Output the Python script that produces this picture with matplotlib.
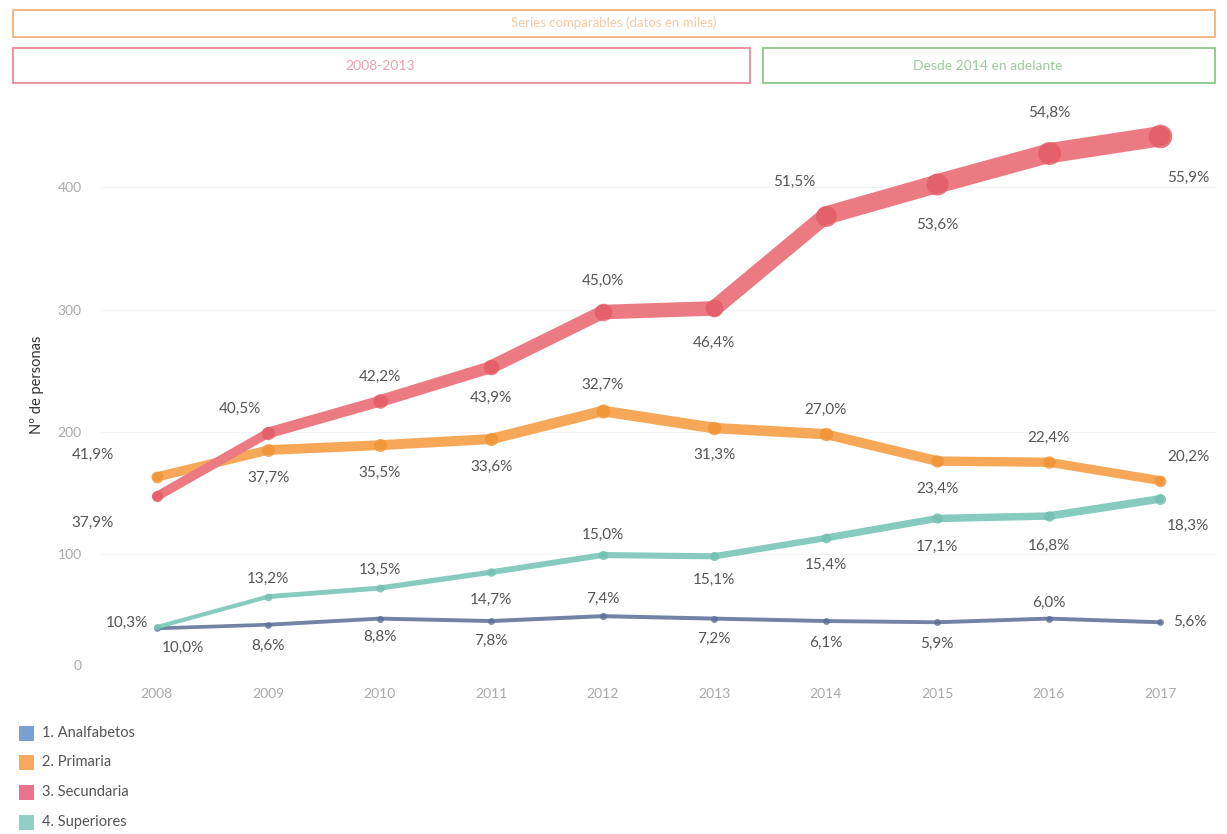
import matplotlib
matplotlib.use("Agg")
import matplotlib.pyplot as plt
from matplotlib.patches import Rectangle
from matplotlib.transforms import ScaledTranslation

plt.rcParams['font.family'] = ['Lato', 'DejaVu Sans']

# --- data (miles de personas) ---
years = [2008, 2009, 2010, 2011, 2012, 2013, 2014, 2015, 2016, 2017]
series_names = ["1. Analfabetos", "2. Primaria", "3. Secundaria", "4. Superiores"]

analfabetos = [39, 42, 47, 45, 49, 47, 45, 44, 47, 44]
primaria = [163, 185, 189, 194, 217, 203, 198, 176, 175, 160]
secundaria = [147, 199, 225, 253, 298, 301, 377, 403, 428, 442]
superiores = [40, 65, 72, 85, 99, 98, 113, 129, 131, 145]

pct_analfabetos = ["10,0%", "8,6%", "8,8%", "7,8%", "7,4%", "7,2%", "6,1%", "5,9%", "6,0%", "5,6%"]
pct_primaria = ["41,9%", "37,7%", "35,5%", "33,6%", "32,7%", "31,3%", "27,0%", "23,4%", "22,4%", "20,2%"]
pct_secundaria = ["37,9%", "40,5%", "42,2%", "43,9%", "45,0%", "46,4%", "51,5%", "53,6%", "54,8%", "55,9%"]
pct_superiores = ["10,3%", "13,2%", "13,5%", "14,7%", "15,0%", "15,1%", "15,4%", "17,1%", "16,8%", "18,3%"]

y_ticks = [0, 100, 200, 300, 400]

header_title = "Series comparables (datos en miles)"
header_left = "2008-2013"
header_right = "Desde 2014 en adelante"

# --- styling ---
line_colors = ["#7283a6", "#f6a858", "#ec7a82", "#86cbbd"]
mark_colors = ["#5d6f95", "#f29235", "#e35a64", "#72bfae"]
legend_colors = ["#79a0cf", "#f6a95e", "#e9738c", "#8ed0c3"]

# label offsets in pixels (dx, dy) relative to each point
off_analf = [(26, -20), (0, -21), (0, -18), (0, -20), (0, 17), (0, -20), (0, -22), (0, -22), (0, 16), (30, 0)]
off_prim = [(-64, 22), (0, -28), (0, -28), (0, -28), (0, 26), (0, -27), (0, 24), (0, -28), (0, 24), (28, 24)]
off_secu = [(-64, -26), (-28, 24), (0, 24), (0, -31), (0, 31), (0, -34), (-32, 34), (0, -41), (0, 40), (28, -42)]
off_sup = [(-30, 4), (0, 18), (0, 18), (0, -28), (0, 20), (0, -24), (0, -27), (0, -28), (0, -30), (28, -27)]

W, H, DPI = 1227, 834, 100
fig = plt.figure(figsize=(W / DPI, H / DPI), dpi=DPI)
fig.patch.set_facecolor("white")

def fx(px):
    return px / W

def fy(py):
    return 1 - py / H

ax = fig.add_axes([fx(101), fy(676), fx(1216) - fx(101), fy(102) - fy(676)])
ax.set_xlim(2007.5, 2017.5)
ax.set_ylim(0, 470)

all_values = [analfabetos, primaria, secundaria, superiores]
all_pcts = [pct_analfabetos, pct_primaria, pct_secundaria, pct_superiores]
all_offs = [off_analf, off_prim, off_secu, off_sup]

px_to_pt = 72 / DPI

def width_px(v):
    return 0.042 * v + 2.0

# draw order: teal, blue, red, orange
for idx in [3, 0, 2, 1]:
    vals = all_values[idx]
    for i in range(len(years) - 1):
        w = width_px((vals[i] + vals[i + 1]) / 2) * px_to_pt
        ax.plot(years[i:i + 2], vals[i:i + 2], color=line_colors[idx], lw=w,
                solid_capstyle="round", solid_joinstyle="round", zorder=2 + idx * 0.1)
    for x, v in zip(years, vals):
        d = width_px(v) + 3
        ax.plot([x], [v], "o", ms=d * px_to_pt, color=mark_colors[idx],
                markeredgewidth=0, alpha=0.8, zorder=2.05 + idx * 0.1)

for vals, pcts, offs in zip(all_values, all_pcts, all_offs):
    for x, v, p, (dx, dy) in zip(years, vals, pcts, offs):
        ax.annotate(p, (x, v), xytext=(dx * px_to_pt, dy * px_to_pt),
                    textcoords="offset points", ha="center", va="center",
                    fontsize=11, color="#555555", zorder=5)

ax.set_xticks(years)
ax.set_xticklabels([str(y) for y in years])
ax.set_yticks(y_ticks)
ax.tick_params(axis="both", length=0, colors="#aaaaaa", labelsize=10)
ax.tick_params(axis="y", pad=14)
ax.tick_params(axis="x", pad=9)
ax.grid(axis="y", color="#f4f4f4", lw=0.8)
ax.set_axisbelow(True)
for s in ax.spines.values():
    s.set_visible(False)

# keep the zero label inside the plotting band
fig.canvas.draw()
zero_lbl = ax.get_yticklabels()[0]
zero_lbl.set_transform(zero_lbl.get_transform() + ScaledTranslation(0, 11 / DPI, fig.dpi_scale_trans))

fig.text(fx(37), fy(385), "Nº de personas", rotation=90, ha="center", va="center",
         fontsize=10.5, color="#333333")

# header panels
fig.patches.append(Rectangle((fx(13), fy(37)), fx(1215) - fx(13), fy(10) - fy(37),
                             transform=fig.transFigure, fill=False,
                             edgecolor="#f5b27a", lw=1.3))
fig.text(fx(614), fy(23), header_title, ha="center", va="center",
         fontsize=9.5, color="#f7c9a0")
fig.patches.append(Rectangle((fx(13), fy(83)), fx(750) - fx(13), fy(48) - fy(83),
                             transform=fig.transFigure, fill=False,
                             edgecolor="#e88a9d", lw=1.3))
fig.text(fx(380), fy(66), header_left, ha="center", va="center",
         fontsize=10, color="#eea0b0")
fig.patches.append(Rectangle((fx(763), fy(83)), fx(1215) - fx(763), fy(48) - fy(83),
                             transform=fig.transFigure, fill=False,
                             edgecolor="#8cc78c", lw=1.3))
fig.text(fx(988), fy(66), header_right, ha="center", va="center",
         fontsize=10, color="#9ccc9c")

# legend
leg_y = [733, 762, 792, 822]
for name, col, yy in zip(series_names, legend_colors, leg_y):
    fig.patches.append(Rectangle((fx(19), fy(yy + 8)), fx(15), fy(0) - fy(15),
                                 transform=fig.transFigure, facecolor=col,
                                 edgecolor="none"))
    fig.text(fx(42), fy(yy), name, ha="left", va="center", fontsize=10.5,
             color="#555555")

fig.savefig("out.png", dpi=DPI, facecolor="white")
